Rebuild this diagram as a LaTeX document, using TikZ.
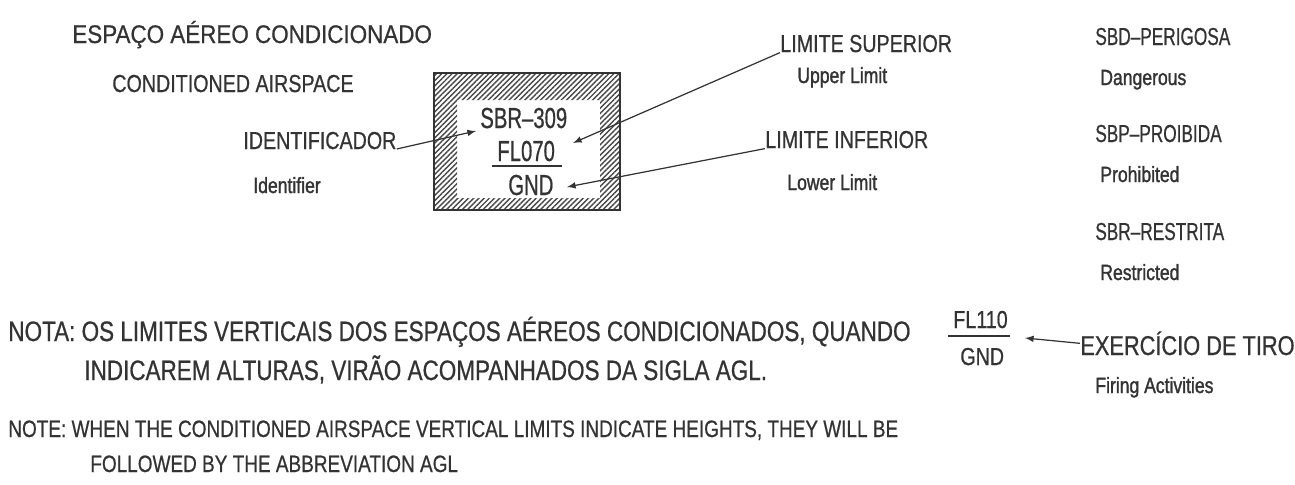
\documentclass[tikz,border=0pt]{standalone}
\usepackage{fontspec}
\setmainfont{Liberation Sans}
\newfontfamily\widesans{Liberation Sans}[FakeStretch=0.88, FakeBold=0.6]
\newfontfamily\condsans{Liberation Sans}[FakeStretch=0.8, FakeBold=0.6]
\newfontfamily\narrowsans{Liberation Sans}[FakeStretch=0.7, FakeBold=0.6]
\newfontfamily\smallsans{Liberation Sans}[FakeStretch=0.8, FakeBold=1.4]
\usetikzlibrary{patterns.meta}
\definecolor{ink}{gray}{0.2}
\tikzset{
  txt/.style={anchor=base west, inner sep=0pt, text=ink},
  head/.style={txt, font=\widesans\fontsize{14.5}{17}\selectfont},
  tag/.style={txt, font=\condsans\fontsize{14}{17}\selectfont},
  sub/.style={txt, font=\smallsans\fontsize{12.5}{15}\selectfont},
  zone/.style={txt, font=\narrowsans\fontsize{14}{17}\selectfont},
  code/.style={txt, font=\narrowsans\fontsize{16.5}{19}\selectfont},
  nota/.style={txt, font=\condsans\fontsize{16}{19}\selectfont},
  note/.style={txt, font=\condsans\fontsize{13.5}{16}\selectfont},
  pointer/.style={-latex, draw=ink, line width=0.7pt},
}
\begin{document}
\begin{tikzpicture}[x=0.02cm, y=-0.02cm]
  \useasboundingbox (0,0) rectangle (1295,484);
  % hatched frame of the conditioned airspace
  \fill[pattern={Lines[angle=45, distance=2.1pt, line width=0.8pt]}, pattern color=ink!90, even odd rule]
    (434,73) rectangle (620,210) (457,100) rectangle (600,198);
  \draw[ink, line width=1.2pt] (434,73) rectangle (620,210);

  \node[head] (titlept) at (72,43) {ESPAÇO AÉREO CONDICIONADO};
  \node[tag] (titleen) at (112,92) {CONDITIONED AIRSPACE};

  \node[code] (sbr) at (480,128) {SBR–309};
  \node[code] (fl070) at (497,161) {FL070};
  \node[code] (gnd) at (508,195) {GND};
  \draw[ink, line width=1pt] (492,166) -- (562,166);

  \node[tag] (ident) at (243,149) {IDENTIFICADOR};
  \node[sub] (identen) at (253,193) {Identifier};
  \node[tag] (lsup) at (780,52) {LIMITE SUPERIOR};
  \node[sub] (lsupen) at (797,83) {Upper Limit};
  \node[tag] (linf) at (765,148) {LIMITE INFERIOR};
  \node[sub] (linfen) at (787,190) {Lower Limit};

  \coordinate (identtip) at (476,131);
  \coordinate (lsuptip) at (573,143);
  \coordinate (linftip) at (567,187);
  \draw[pointer] (ident.base east) -- (identtip);
  \draw[pointer] (lsup.south west) -- (lsuptip);
  \draw[pointer] (linf.south west) -- (linftip);

  % kinds of area
  \node[zone] (sbd) at (1095,45) {SBD–PERIGOSA};
  \node[sub] (sbden) at (1100,85) {Dangerous};
  \node[zone] (sbp) at (1095,142) {SBP–PROIBIDA};
  \node[sub] (sbpen) at (1100,182) {Prohibited};
  \node[zone] (sbrz) at (1095,240) {SBR–RESTRITA};
  \node[sub] (sbrzen) at (1100,280) {Restricted};

  % firing activities
  \node[tag] (fl110) at (953,328) {FL110};
  \node[tag] (gndtiro) at (960,365) {GND};
  \draw[ink, line width=1pt] (948,336) -- (1010,336);
  \node[txt, font=\condsans\fontsize{15.5}{18}\selectfont] (tiro) at (1080,355) {EXERCÍCIO DE TIRO};
  \node[sub] (tiroen) at (1095,393) {Firing Activities};
  \coordinate (tirotip) at (1025,338);
  \draw[pointer] (tiro.west) -- (tirotip);

  % notes
  \node[nota] (nota1) at (8,341) {NOTA: OS LIMITES VERTICAIS DOS ESPAÇOS AÉREOS CONDICIONADOS, QUANDO};
  \node[nota] (nota2) at (84,380) {INDICAREM ALTURAS, VIRÃO ACOMPANHADOS DA SIGLA AGL.};
  \node[note] (note1) at (8,437) {NOTE: WHEN THE CONDITIONED AIRSPACE VERTICAL LIMITS INDICATE HEIGHTS, THEY WILL BE};
  \node[note] (note2) at (90,472) {FOLLOWED BY THE ABBREVIATION AGL};
\end{tikzpicture}
\end{document}
